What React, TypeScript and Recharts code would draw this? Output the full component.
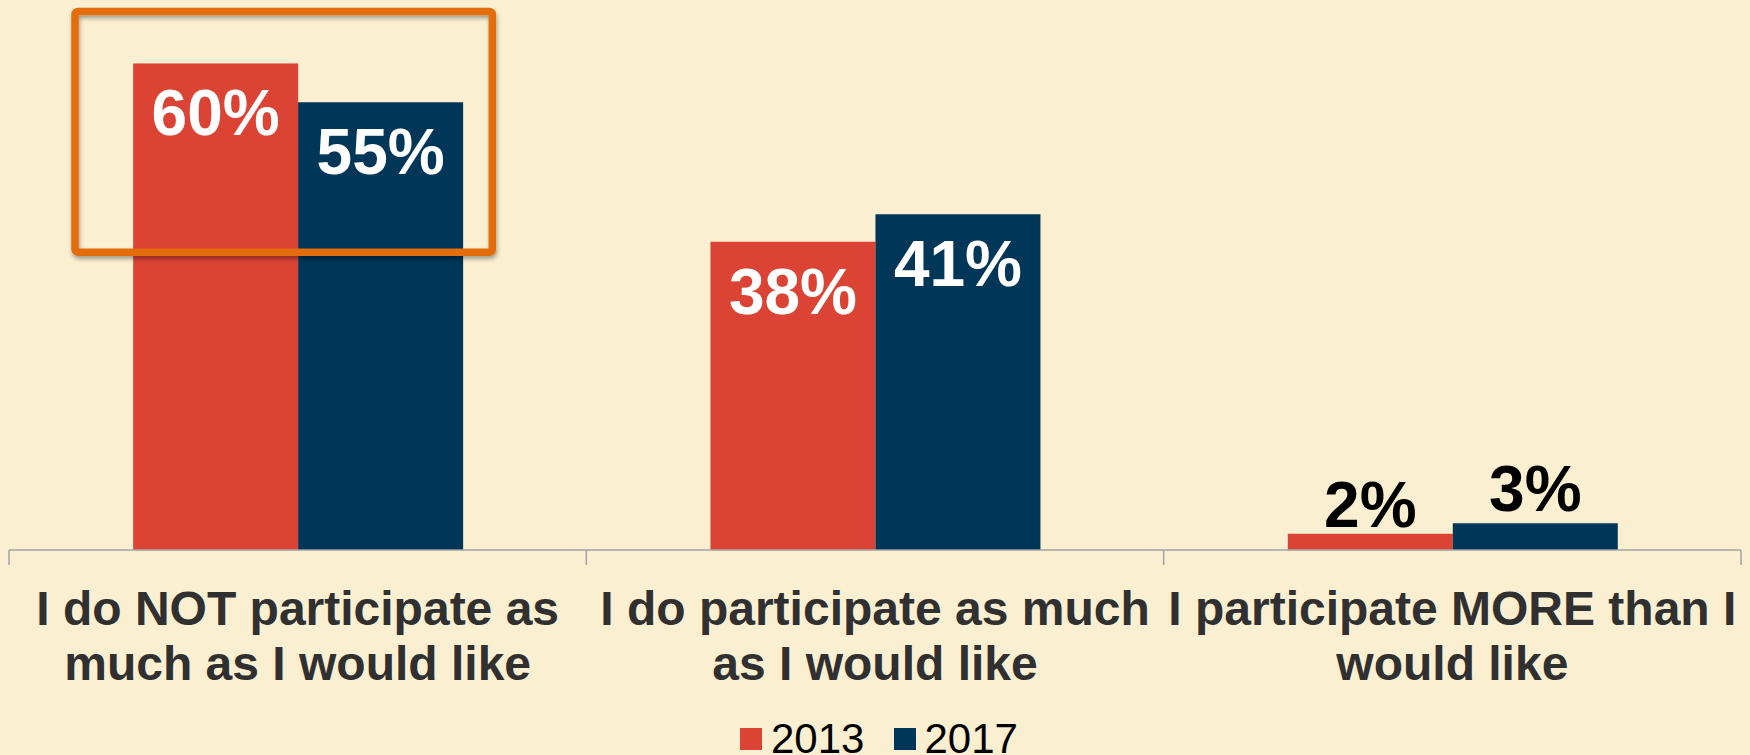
import React from 'react';
import { BarChart, Bar, XAxis, YAxis, LabelList, Legend, ReferenceArea } from 'recharts';

// ---- data ----
const categories = [
  'I do NOT participate as much as I would like',
  'I do participate as much as I would like',
  'I participate MORE than I would like',
];
const categoryLines = [
  ['I do NOT participate as', 'much as I would like'],
  ['I do participate as much', 'as I would like'],
  ['I participate MORE than I', 'would like'],
];
const seriesNames = ['2013', '2017'];
const values2013 = [60, 38, 2];
const values2017 = [55.2, 41.4, 3.3];
const highlightCategory = categories[0];
const highlightRange = [36.7, 66.4];
const yDomain = [0, 60];

// ---- style ----
const COLORS = ['#DB4335', '#003658'];
const BG = '#FAEFD0';
const ORANGE = '#E36C0A';
const AXIS = '#A3A3A3';
const FONT = '"Liberation Sans", Arial, sans-serif';
const OUTSIDE_OFFSETS = [7, 12];

const data = categories.map((c, i) => ({ category: c, v2013: values2013[i], v2017: values2017[i] }));

const CategoryTick = (props: any) => {
  const { x, y, payload, width } = props;
  const idx = categories.indexOf(payload.value);
  const half = payload && payload.offset ? payload.offset : width / categories.length / 2;
  const lines = categoryLines[idx] ?? [String(payload.value)];
  return (
    <g>
      <line x1={x - half} x2={x - half} y1={y} y2={y + 15} stroke={AXIS} strokeWidth={1.5} />
      {idx === categories.length - 1 && (
        <line x1={x + half} x2={x + half} y1={y} y2={y + 15} stroke={AXIS} strokeWidth={1.5} />
      )}
      <text x={x} y={y + 75} textAnchor="middle" fontFamily={FONT} fontSize={48} fontWeight="bold" fill="#303030">
        {lines.map((l, i) => (
          <tspan key={i} x={x} dy={i === 0 ? 0 : 55}>
            {l}
          </tspan>
        ))}
      </text>
    </g>
  );
};

const makeValueLabel = (seriesIdx: number) => (props: any) => {
  const { x, y, width, value } = props;
  const cx = Number(x) + Number(width) / 2;
  const inside = Number(value) >= 10;
  return (
    <text
      x={cx}
      y={inside ? Number(y) + 72 : Number(y) - OUTSIDE_OFFSETS[seriesIdx]}
      textAnchor="middle"
      fontFamily={FONT}
      fontSize={64}
      fontWeight="bold"
      fill={inside ? '#FFFFFF' : '#000000'}
    >
      {Math.round(Number(value))}%
    </text>
  );
};
const Label2013 = makeValueLabel(0);
const Label2017 = makeValueLabel(1);

const HighlightBox = (props: any) => {
  const { x, y, width, height } = props;
  const left = x + 66;
  const right = x + width - 94;
  return (
    <g>
      <defs>
        <filter id="boxShadow" x="-10%" y="-10%" width="120%" height="130%">
          <feDropShadow dx="1" dy="3" stdDeviation="2" floodColor="#000" floodOpacity="0.35" />
        </filter>
      </defs>
      <rect
        x={left}
        y={y}
        width={right - left}
        height={height}
        rx={3}
        ry={3}
        fill="none"
        stroke={ORANGE}
        strokeWidth={7.5}
        filter="url(#boxShadow)"
      />
    </g>
  );
};

const LegendContent = (props: any) => {
  const items =
    props.payload && props.payload.length
      ? props.payload.map((p: any, i: number) => ({ name: String(p.value), color: p.color || COLORS[i] }))
      : seriesNames.map((n, i) => ({ name: n, color: COLORS[i] }));
  return (
    <div
      style={{
        display: 'flex',
        alignItems: 'center',
        height: 42,
        fontFamily: FONT,
        fontSize: 42,
        lineHeight: '42px',
        color: '#000',
        paddingLeft: 740,
      }}
    >
      {items.map((it: any, i: number) => (
        <div key={it.name} style={{ display: 'flex', alignItems: 'center', marginRight: i === 0 ? 30 : 0 }}>
          <div style={{ width: 22, height: 22, background: it.color, marginRight: i === 0 ? 9 : 8 }} />
          <span>{it.name}</span>
        </div>
      ))}
    </div>
  );
};

export default function App() {
  return (
    <div
      style={{
        position: 'absolute',
        left: 0,
        top: 0,
        width: 1750,
        height: 755,
        overflow: 'hidden',
        background: BG,
      }}
    >
      <BarChart
        width={1750}
        height={755}
        data={data}
        margin={{ top: 63.3, right: 9, bottom: 0, left: 9 }}
        barCategoryGap="21.5%"
        barGap={0}
      >
        <XAxis
          dataKey="category"
          height={205}
          interval={0}
          tickSize={0}
          tickMargin={0}
          tickLine={false}
          axisLine={{ stroke: AXIS, strokeWidth: 1.5 }}
          tick={<CategoryTick />}
        />
        <YAxis hide domain={yDomain} allowDataOverflow />
        <Bar dataKey="v2013" name={seriesNames[0]} fill={COLORS[0]} isAnimationActive={false}>
          <LabelList dataKey="v2013" content={<Label2013 />} />
        </Bar>
        <Bar dataKey="v2017" name={seriesNames[1]} fill={COLORS[1]} isAnimationActive={false}>
          <LabelList dataKey="v2017" content={<Label2017 />} />
        </Bar>
        <ReferenceArea
          x1={highlightCategory}
          x2={highlightCategory}
          y1={highlightRange[0]}
          y2={highlightRange[1]}
          ifOverflow="visible"
          zIndex={1500}
          shape={<HighlightBox />}
        />
        <Legend
          layout="horizontal"
          verticalAlign="middle"
          align="center"
          wrapperStyle={{ top: 717.5, left: 0, width: 1750, margin: 0 }}
          content={<LegendContent />}
        />
      </BarChart>
    </div>
  );
}
